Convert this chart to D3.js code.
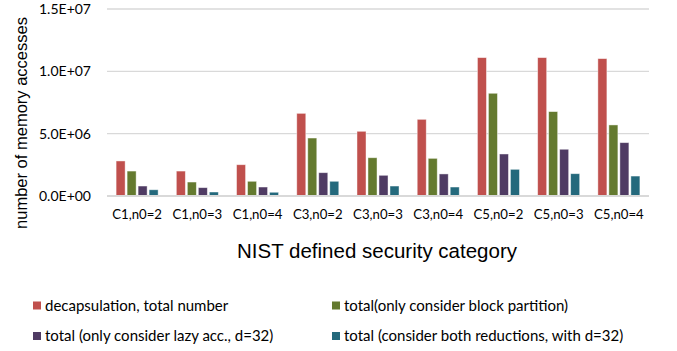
<!DOCTYPE html>
<html>
<head>
<meta charset="utf-8">
<script src="https://cdn.jsdelivr.net/npm/d3@7"></script>
<style>
  body { margin: 0; background: #fff; }
  svg { display: block; }
</style>
</head>
<body>
<div id="chart"></div>
<script>
// ---- data ----
const categories = ["C1,n0=2", "C1,n0=3", "C1,n0=4", "C3,n0=2", "C3,n0=3", "C3,n0=4", "C5,n0=2", "C5,n0=3", "C5,n0=4"];
const seriesNames = [
  "decapsulation, total number",
  "total(only consider block partition)",
  "total (only consider lazy acc., d=32)",
  "total (consider both reductions, with d=32)"
];
const decapTotal   = [2.81e6, 2.0e6, 2.51e6, 6.63e6, 5.19e6, 6.15e6, 11.1e6, 11.1e6, 11.02e6];
const blockOnly    = [2.0e6, 1.12e6, 1.18e6, 4.65e6, 3.07e6, 3.02e6, 8.24e6, 6.77e6, 5.7e6];
const lazyOnly     = [0.8e6, 0.67e6, 0.72e6, 1.87e6, 1.66e6, 1.77e6, 3.37e6, 3.75e6, 4.28e6];
const bothReduced  = [0.5e6, 0.32e6, 0.3e6, 1.18e6, 0.8e6, 0.72e6, 2.14e6, 1.79e6, 1.6e6];
const yTicks = [0, 5e6, 1e7, 1.5e7];

(function () {
  const W = 677, H = 351;
  const plot = { left: 107, right: 649, top: 9, bottom: 196 };
  const colors = ["#c0504d", "#647a2f", "#4f3b63", "#24697c"];
  const allSeries = [decapTotal, blockOnly, lazyOnly, bothReduced];

  const svg = d3.select("#chart").append("svg")
    .attr("width", W).attr("height", H);

  const x = d3.scaleBand().domain(categories).range([plot.left, plot.right]).padding(0);
  const bw = x.bandwidth();
  const xSub = d3.scaleBand().domain(d3.range(4))
    .range([bw / 2 - 22, bw / 2 + 22]).paddingInner(0.18).paddingOuter(0.09);
  const y = d3.scaleLinear().domain([0, 1.5e7]).range([plot.bottom, plot.top]);

  // gridlines
  svg.append("g").selectAll("line")
    .data(yTicks.filter(d => d > 0))
    .join("line")
    .attr("x1", plot.left).attr("x2", plot.right)
    .attr("y1", d => y(d)).attr("y2", d => y(d))
    .attr("stroke", "#d9d9d9").attr("stroke-width", 1.3);

  // y tick labels
  const fmt = v => {
    const e = v === 0 ? 0 : Math.floor(Math.log10(v));
    const m = v / Math.pow(10, e);
    return m.toFixed(1) + "E+" + String(e).padStart(2, "0");
  };
  svg.append("g").selectAll("text")
    .data(yTicks)
    .join("text")
    .attr("x", 91).attr("y", d => y(d))
    .attr("dy", "0.35em")
    .attr("text-anchor", "end")
    .attr("font-family", "Lato, sans-serif").attr("font-size", 14)
    .attr("fill", "#000")
    .text(fmt);

  // bars
  const groups = svg.append("g").selectAll("g")
    .data(categories)
    .join("g")
    .attr("transform", d => `translate(${x(d)},0)`);

  groups.selectAll("rect")
    .data((c, i) => allSeries.map((s, k) => ({ k, v: s[i] })))
    .join("rect")
    .attr("x", d => xSub(d.k))
    .attr("width", xSub.bandwidth())
    .attr("y", d => y(d.v))
    .attr("height", d => y(0) - y(d.v))
    .attr("fill", d => colors[d.k])
    .attr("stroke", "#ffffff").attr("stroke-opacity", 0.55).attr("stroke-width", 0.8);

  // x axis line
  svg.append("line")
    .attr("x1", plot.left).attr("x2", plot.right)
    .attr("y1", y(0)).attr("y2", y(0))
    .attr("stroke", "#d9d9d9").attr("stroke-width", 2);

  // x tick labels
  svg.append("g").selectAll("text")
    .data(categories)
    .join("text")
    .attr("x", d => x(d) + bw / 2)
    .attr("y", 219)
    .attr("text-anchor", "middle")
    .attr("font-family", "Lato, sans-serif").attr("font-size", 13.2)
    .attr("fill", "#000")
    .text(d => d);

  // axis titles
  svg.append("text")
    .attr("x", 377).attr("y", 258)
    .attr("text-anchor", "middle")
    .attr("font-family", "'Liberation Sans', Arial, sans-serif").attr("font-size", 20.5)
    .attr("fill", "#000")
    .text("NIST defined security category");

  svg.append("text")
    .attr("transform", "translate(27,123) rotate(-90)")
    .attr("text-anchor", "middle")
    .attr("font-family", "'Liberation Sans', Arial, sans-serif").attr("font-size", 16.5)
    .attr("fill", "#000")
    .text("number of memory accesses");

  // legend
  const legendPos = [[33, 305.5], [332, 305.5], [33, 336], [332, 336]];
  const legend = svg.append("g").selectAll("g")
    .data(seriesNames)
    .join("g")
    .attr("transform", (d, i) => `translate(${legendPos[i][0]},${legendPos[i][1]})`);
  legend.append("rect")
    .attr("x", 0).attr("y", -4).attr("width", 8).attr("height", 8)
    .attr("fill", (d, i) => colors[i]);
  legend.append("text")
    .attr("x", 12).attr("y", 0).attr("dy", "0.35em")
    .attr("font-family", "Lato, sans-serif").attr("font-size", 15)
    .attr("fill", "#000")
    .text(d => d);
})();
</script>
</body>
</html>
